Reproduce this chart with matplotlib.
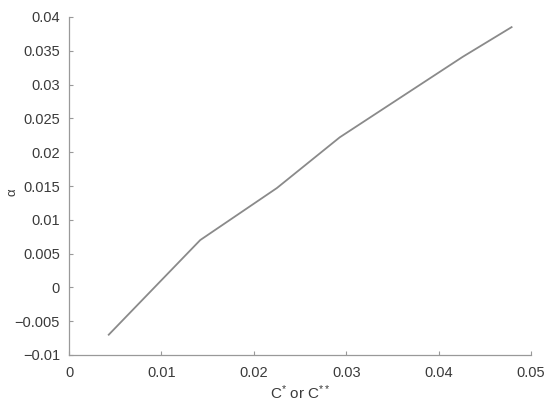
import matplotlib
matplotlib.use("Agg")
import matplotlib.pyplot as plt

x_vals = [0.0043, 0.0142, 0.0225, 0.0293, 0.0426, 0.0479]
y_vals = [-0.0070, 0.0070, 0.0147, 0.0222, 0.0341, 0.0385]
x_ticks = [0, 0.01, 0.02, 0.03, 0.04, 0.05]
x_tick_labels = ["0", "0.01", "0.02", "0.03", "0.04", "0.05"]
y_ticks = [-0.01, -0.005, 0, 0.005, 0.01, 0.015, 0.02, 0.025, 0.03, 0.035, 0.04]
y_tick_labels = ["\u22120.01", "\u22120.005", "0", "0.005", "0.01", "0.015", "0.02", "0.025", "0.03", "0.035", "0.04"]

plt.rcParams['font.family'] = ['Liberation Sans', 'DejaVu Sans']
plt.rcParams['mathtext.fontset'] = 'custom'
plt.rcParams['mathtext.rm'] = 'Liberation Sans'
plt.rcParams['mathtext.it'] = 'Liberation Sans'
text_color = '#3a3a3a'

fig = plt.figure(figsize=(5.5, 4.04), dpi=100)
ax = fig.add_axes([69/550, 1 - 355/404, (531 - 69)/550, (355 - 17)/404])
ax.plot(x_vals, y_vals, color='#8a8a8a', linewidth=1.3)

ax.set_xlim(0, 0.05)
ax.set_ylim(-0.01, 0.04)
ax.set_xticks(x_ticks)
ax.set_xticklabels(x_tick_labels)
ax.set_yticks(y_ticks)
ax.set_yticklabels(y_tick_labels)

for s in ['top', 'right']:
    ax.spines[s].set_visible(False)
for s in ['left', 'bottom']:
    ax.spines[s].set_color('#999999')
    ax.spines[s].set_linewidth(0.9)

ax.tick_params(direction='in', length=3, width=0.8, color='#999999',
               labelsize=10.5, labelcolor=text_color)
ax.tick_params(axis='y', pad=6.5)
ax.tick_params(axis='x', pad=8)

ax.set_xlabel(r'C$^{*}$ or C$^{**}$', fontsize=11, color=text_color)
ax.xaxis.set_label_coords(0.5, -(393 - 355) / 338, transform=ax.transAxes)
ax.xaxis.label.set_va('center')
ax.set_ylabel('α', fontsize=9.5, color=text_color)
ax.yaxis.set_label_coords(-(69 - 13) / 462, (355 - 192) / 338, transform=ax.transAxes)
ax.yaxis.label.set_va('center')

fig.savefig('out.png', dpi=100)
